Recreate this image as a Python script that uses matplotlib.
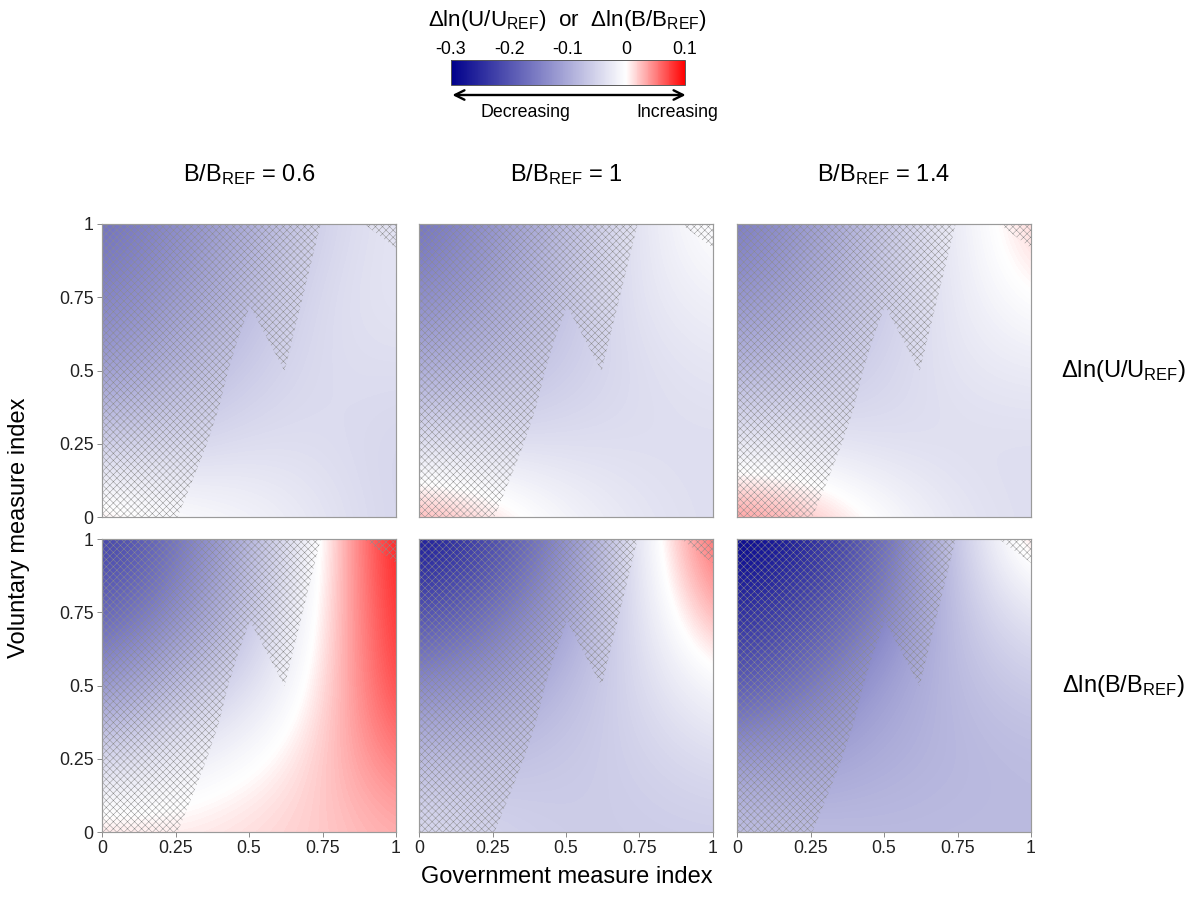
import matplotlib
matplotlib.use('Agg')
import matplotlib.pyplot as plt
import numpy as np
from matplotlib.colors import LinearSegmentedColormap

plt.rcParams['font.family'] = ['Liberation Sans', 'DejaVu Sans']
plt.rcParams['mathtext.fontset'] = 'custom'
plt.rcParams['mathtext.rm'] = 'Liberation Sans'
plt.rcParams['mathtext.it'] = 'Liberation Sans'
plt.rcParams['axes.unicode_minus'] = False
plt.rcParams['hatch.linewidth'] = 0.4

# grid of the two indices (columns: government, rows: voluntary)
gov_index = [0, 0.25, 0.5, 0.75, 1]
vol_index = [0, 0.25, 0.5, 0.75, 1]
b_ratio_labels = ['0.6', '1', '1.4']

# delta ln(U/U_REF), rows from voluntary index 0 to 1
du_06 = [[0.02, 0.0, -0.01, -0.03, -0.05],
         [-0.06, -0.05, -0.04, -0.04, -0.05],
         [-0.12, -0.09, -0.06, -0.04, -0.04],
         [-0.15, -0.12, -0.08, -0.04, -0.03],
         [-0.17, -0.14, -0.10, -0.05, -0.03]]
du_10 = [[0.04, 0.02, -0.01, -0.03, -0.04],
         [-0.04, -0.04, -0.04, -0.04, -0.04],
         [-0.10, -0.08, -0.06, -0.04, -0.03],
         [-0.14, -0.11, -0.07, -0.03, -0.015],
         [-0.17, -0.13, -0.08, -0.03, 0.005]]
du_14 = [[0.05, 0.03, 0.0, -0.03, -0.04],
         [-0.03, -0.03, -0.04, -0.04, -0.04],
         [-0.09, -0.07, -0.05, -0.03, -0.025],
         [-0.13, -0.10, -0.06, -0.025, 0.004],
         [-0.16, -0.12, -0.07, -0.02, 0.022]]

# delta ln(B/B_REF)
db_06 = [[0.02, 0.01, 0.015, 0.02, 0.03],
         [-0.05, -0.02, -0.005, 0.02, 0.055],
         [-0.13, -0.08, -0.04, 0.01, 0.08],
         [-0.19, -0.14, -0.07, 0.005, 0.09],
         [-0.23, -0.17, -0.09, 0.0, 0.10]]
db_10 = [[-0.04, -0.05, -0.06, -0.06, -0.06],
         [-0.08, -0.07, -0.065, -0.055, -0.04],
         [-0.14, -0.12, -0.08, -0.045, -0.005],
         [-0.21, -0.17, -0.11, -0.035, 0.04],
         [-0.28, -0.22, -0.14, -0.025, 0.07]]
db_14 = [[-0.07, -0.075, -0.08, -0.08, -0.08],
         [-0.12, -0.11, -0.095, -0.085, -0.08],
         [-0.20, -0.16, -0.11, -0.08, -0.06],
         [-0.25, -0.21, -0.15, -0.07, -0.025],
         [-0.30, -0.26, -0.18, -0.06, 0.03]]

# infeasible region (hatched), same for every panel
infeasible_x = [0, 0.257, 0.306, 0.357, 0.397, 0.428, 0.46, 0.503, 0.621, 0.744, 0]
infeasible_y = [0, 0, 0.12, 0.25, 0.37, 0.495, 0.6, 0.72, 0.498, 1.0, 1.0]
corner_x = [0.89, 1, 1]
corner_y = [1, 1, 0.917]

cb_ticks = [-0.3, -0.2, -0.1, 0, 0.1]
cb_ticklabels = ['-0.3', '-0.2', '-0.1', '0', '0.1']

vmin, vmax = -0.3, 0.1
cmap = LinearSegmentedColormap.from_list(
    'bwr_custom', [(0, '#00008b'), (0.75, '#ffffff'), (1, '#ff0000')])

fig = plt.figure(figsize=(1191 / 85, 915 / 85), dpi=85)

lefts = [102 / 1191, 419 / 1191, 737 / 1191]
bottoms = [1 - 517 / 915, 1 - 832 / 915]
w, h = 294 / 1191, 293 / 915

rows = [[du_06, du_10, du_14], [db_06, db_10, db_14]]
step = gov_index[1] - gov_index[0]
ticks = [0, 0.25, 0.5, 0.75, 1]
tick_lbl = ['0', '0.25', '0.5', '0.75', '1']
hatch_col = '#8c8c8c'

im = None
for r in range(2):
    for c in range(3):
        ax = fig.add_axes([lefts[c], bottoms[r], w, h])
        z = np.array(rows[r][c])
        im = ax.imshow(z, origin='lower', cmap=cmap, vmin=vmin, vmax=vmax,
                       interpolation='bicubic', aspect='auto',
                       extent=(gov_index[0] - step / 2, gov_index[-1] + step / 2,
                               vol_index[0] - step / 2, vol_index[-1] + step / 2))
        ax.fill(infeasible_x, infeasible_y, facecolor='none', edgecolor=hatch_col,
                hatch='xxxx', linewidth=0)
        ax.fill(corner_x, corner_y, facecolor='none', edgecolor=hatch_col,
                hatch='xxxx', linewidth=0)
        ax.set_xlim(0, 1)
        ax.set_ylim(0, 1)
        for s in ax.spines.values():
            s.set_color('#9a9a9a')
            s.set_linewidth(1.0)
        ax.tick_params(colors='#888888', labelcolor='#222222', labelsize=15,
                       length=4, width=0.8, pad=3)
        if c == 0:
            ax.set_yticks(ticks)
            ax.set_yticklabels(tick_lbl)
        else:
            ax.set_yticks([])
        if r == 1:
            ax.set_xticks(ticks)
            ax.set_xticklabels(tick_lbl)
        else:
            ax.set_xticks([])
        if r == 0:
            ax.set_title(r'B/B$_{\mathrm{REF}}$ = ' + b_ratio_labels[c],
                         fontsize=20, pad=36)

# row labels
fig.text(0.943, bottoms[0] + h / 2, r'Δln(U/U$_{\mathrm{REF}}$)', fontsize=20,
         ha='center', va='center')
fig.text(0.943, bottoms[1] + h / 2, r'Δln(B/B$_{\mathrm{REF}}$)', fontsize=20,
         ha='center', va='center')

fig.text(0.016, 0.423, 'Voluntary measure index', fontsize=20, rotation=90,
         ha='center', va='center')
fig.text(0.476, 0.041, 'Government measure index', fontsize=20,
         ha='center', va='center')

# colour bar
cax = fig.add_axes([451 / 1191, 1 - 85 / 915, 234 / 1191, 25 / 915])
cb = fig.colorbar(im, cax=cax, orientation='horizontal', ticklocation='top')
cb.set_ticks(cb_ticks)
cb.set_ticklabels(cb_ticklabels)
cb.ax.tick_params(length=0, labelsize=15, pad=2)
cb.outline.set_edgecolor('#555555')
cb.outline.set_linewidth(0.8)
fig.text(0.476, 0.978, r'Δln(U/U$_{\mathrm{REF}}$)  or  Δln(B/B$_{\mathrm{REF}}$)',
         fontsize=19, ha='center', va='center')
fig.patches.append(matplotlib.patches.FancyArrowPatch(
    (450 / 1191, 1 - 95 / 915), (688 / 1191, 1 - 95 / 915),
    transform=fig.transFigure, arrowstyle='<->,head_length=8,head_width=4',
    color='black', linewidth=2.0))
fig.text(0.441, 0.877, 'Decreasing', fontsize=15, ha='center', va='center')
fig.text(0.569, 0.877, 'Increasing', fontsize=15, ha='center', va='center')

fig.savefig('out.png', dpi=85)
